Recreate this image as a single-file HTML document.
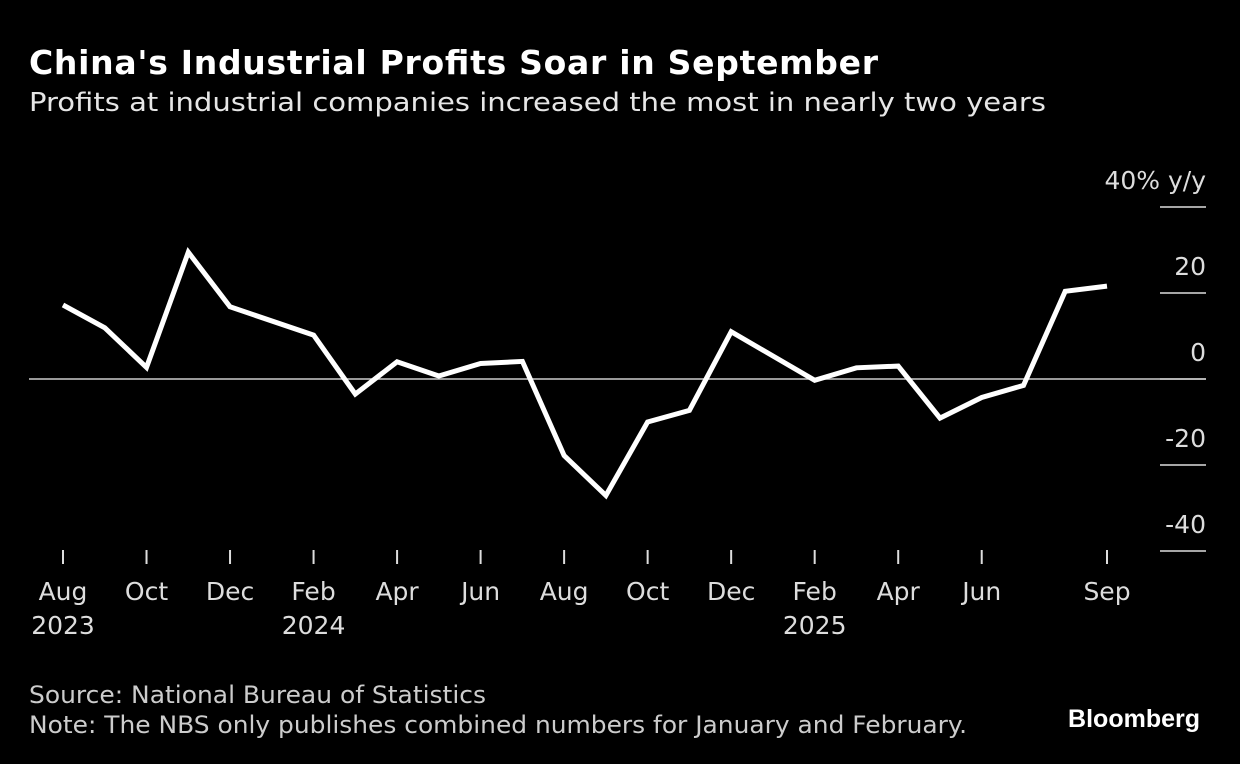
<!DOCTYPE html>
<html><head><meta charset="utf-8"><style>
body{margin:0;background:#000;width:1240px;height:764px;overflow:hidden;font-family:"Liberation Sans","DejaVu Sans",sans-serif;color:#fff}
</style></head><body>
<svg width="1240" height="764" style="position:absolute;left:0;top:0">
<text x="29" y="74" font-size="33" font-weight="bold" fill="#fff" font-family="DejaVu Sans, sans-serif" textLength="849" lengthAdjust="spacing">China's Industrial Profits Soar in September</text>
<text x="29" y="111" font-size="26" fill="#e6e6e6" font-family="DejaVu Sans, sans-serif" textLength="1017" lengthAdjust="spacingAndGlyphs">Profits at industrial companies increased the most in nearly two years</text>
<g id="yaxis"></g>
<g id="xaxis"></g>
<g id="plot"></g>
<text x="29" y="703" font-size="24" fill="#ccc" font-family="DejaVu Sans, sans-serif" textLength="457" lengthAdjust="spacingAndGlyphs">Source: National Bureau of Statistics</text>
<text x="29" y="733" font-size="24" fill="#ccc" font-family="DejaVu Sans, sans-serif" textLength="938" lengthAdjust="spacingAndGlyphs">Note: The NBS only publishes combined numbers for January and February.</text>
<text x="1200" y="727" font-size="25" font-weight="bold" fill="#fff" text-anchor="end">Bloomberg</text>
</svg>
<script>
// month index 0 = Aug 2023; Jan 2024 (5) and Jan 2025 (17) not published
const monthIdx=[0,1,2,3,4,6,7,8,9,10,11,12,13,14,15,16,18,19,20,21,22,23,24,25];
const values=[17.2,11.9,2.7,29.5,16.8,10.2,-3.5,4.0,0.7,3.6,4.1,-17.8,-27.1,-10.0,-7.3,11.0,-0.3,2.6,3.0,-9.1,-4.3,-1.5,20.4,21.6];
const yTicks=[40,20,0,-20,-40];
const yTickLabels=["40% y/y","20","0","-20","-40"];
const xTickIdx=[0,2,4,6,8,10,12,14,16,18,20,22,25];
const xTickLabels=[["Aug","2023"],["Oct"],["Dec"],["Feb","2024"],["Apr"],["Jun"],["Aug"],["Oct"],["Dec"],["Feb","2025"],["Apr"],["Jun"],["Sep"]];
const NS="http://www.w3.org/2000/svg";
const x=i=>63+i*(1107-63)/25;
const y=v=>379-v*4.3;
function mk(tag,attrs,parent){const e=document.createElementNS(NS,tag);for(const k in attrs)e.setAttribute(k,attrs[k]);parent.appendChild(e);return e;}
const ya=document.getElementById('yaxis'),xa=document.getElementById('xaxis'),pl=document.getElementById('plot');
yTicks.forEach((t,i)=>{
 const l=mk('line',{x1:1160,x2:1206,y1:y(t),y2:y(t),stroke:'#ddd','stroke-width':1.5},ya);
 
 
 const tx=mk('text',{x:1206,y:y(t)-18,'font-size':25,fill:'#ddd','text-anchor':'end','font-family':'DejaVu Sans, sans-serif'},ya);
 tx.textContent=yTickLabels[i];
 
 
});
const z=mk('line',{x1:29,x2:1206,y1:y(0),y2:y(0),stroke:'#ccc','stroke-width':1.5},pl);


xTickIdx.forEach((m,i)=>{
 const l=mk('line',{x1:x(m),x2:x(m),y1:550,y2:564,stroke:'#ddd','stroke-width':2},xa);
 
 
 xTickLabels[i].forEach((s,j)=>{
  const tx=mk('text',{x:x(m),y:600+j*34,'font-size':25,fill:'#ddd','text-anchor':'middle','font-family':'DejaVu Sans, sans-serif'},xa);
  tx.textContent=s;
  
  
 });
});
const d=monthIdx.map((m,i)=>(i?'L':'M')+x(m).toFixed(1)+','+y(values[i]).toFixed(1)).join('');
const p=mk('path',{d:d,fill:'none',stroke:'#fff','stroke-width':5,'stroke-linejoin':'miter'},pl);


</script>
</body></html>
